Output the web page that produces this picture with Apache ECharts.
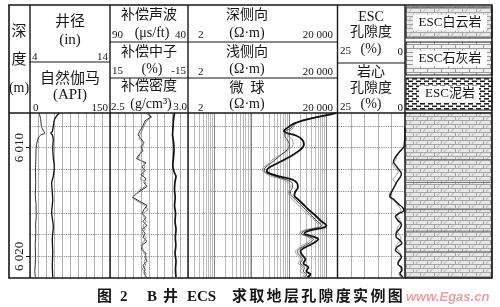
<!DOCTYPE html>
<html>
<head>
<meta charset="utf-8">
<script src="https://cdn.jsdelivr.net/npm/echarts@6/dist/echarts.min.js"></script>
<style>
html,body{margin:0;padding:0;background:#fff}
#chart{width:500px;height:307px}
</style>
</head>
<body>
<div id="chart"></div>
<script>
// ---- depth window and reference lines ----
const depthTop = 6006.8;
const depthBottom = 6022;
const depthLabels = [6010, 6020];
const depthGrid = [6008, 6010, 6012, 6014, 6016, 6018, 6020];

// ---- track 1: gamma ray (API) and caliper (in) ----
const grDepth = [6006.8, 6007.43, 6008.07, 6008.44, 6008.67, 6008.81, 6009.08, 6009.72, 6010.18, 6011.1, 6012.02, 6013.21, 6014.31, 6015.23, 6016.33, 6017.06, 6017.8, 6018.9, 6019.82, 6020.73, 6021.38, 6021.93];
const grValue = [17.4, 20.1, 21.6, 25.3, 28.1, 20.6, 15.6, 12.2, 11.3, 10.9, 10.3, 10.7, 9.9, 11.3, 11.6, 10.5, 10.9, 9.8, 10.3, 9.9, 9.0, 10.3];

const calDepth = [6006.8, 6007.06, 6007.43, 6008.04, 6008.5, 6008.65, 6008.81, 6009.27, 6010.03, 6010.95, 6011.71, 6012.63, 6013.21, 6014.77, 6015.96, 6017.25, 6018.44, 6019.63, 6020.92, 6021.93];
const calValue = [7.66, 7.34, 7.04, 6.91, 6.79, 6.59, 6.79, 6.91, 6.84, 6.91, 7.04, 6.91, 6.71, 6.84, 6.71, 6.91, 6.79, 6.84, 6.79, 6.85];

// ---- track 2: sonic (us/ft), neutron (%), density (g/cm3) ----
const sonicDepth = [6006.79, 6007.43, 6008.17, 6008.81, 6009.45, 6010.18, 6010.92, 6011.56, 6012.2, 6012.66, 6013.12, 6013.85, 6014.59, 6015.32, 6016.06, 6016.79, 6017.52, 6018.26, 6018.99, 6019.72, 6020.46, 6021.19, 6021.93];
const sonicValue = [48.65, 49.3, 49.6, 49.9, 49.3, 48.97, 49.3, 49.75, 48.97, 47.7, 48.3, 48.65, 48.2, 48.6, 48.0, 48.3, 47.7, 48.1, 47.8, 48.3, 47.7, 48.0, 47.7];

const nuDenDepth = [6006.79, 6007.16, 6007.52, 6007.98, 6008.44, 6008.81, 6009.17, 6009.54, 6009.91, 6010.28, 6010.64, 6011.01, 6011.38, 6011.74, 6012.11, 6012.48, 6012.84, 6013.21, 6013.58, 6013.94, 6014.31, 6014.59, 6014.95, 6015.32, 6015.69, 6016.06, 6016.42, 6016.79, 6017.16, 6017.52, 6017.89, 6018.26, 6018.62, 6018.99, 6019.36, 6019.72, 6020.09, 6020.46, 6020.83, 6021.19, 6021.56, 6021.93];
const neutronValue = [1.15, -0.77, 1.54, 2.31, 3.46, 4.23, 3.08, 1.92, 3.08, 2.31, 3.85, 4.81, 1.15, 2.69, 1.54, 3.08, 1.15, 1.92, 0.77, 3.08, 5.38, 6.15, 3.46, 0.77, 1.92, 2.69, 1.15, 2.31, 0.77, 2.69, 1.54, 2.31, 0.77, 2.69, 2.88, 1.15, 1.54, 0.77, 2.31, 1.54, 1.92, 0.96];
const densityValue = [2.744, 2.769, 2.737, 2.718, 2.705, 2.692, 2.686, 2.712, 2.712, 2.699, 2.692, 2.679, 2.718, 2.724, 2.712, 2.718, 2.692, 2.731, 2.724, 2.686, 2.667, 2.641, 2.679, 2.724, 2.744, 2.712, 2.718, 2.731, 2.712, 2.724, 2.705, 2.731, 2.718, 2.699, 2.712, 2.718, 2.737, 2.718, 2.731, 2.705, 2.731, 2.724];

// ---- track 3: resistivity (ohm.m), log scale ----
const resDepth = [6006.79, 6006.97, 6007.16, 6007.43, 6007.8, 6008.17, 6008.44, 6008.62, 6008.9, 6009.27, 6009.72, 6010.18, 6010.64, 6011.1, 6011.47, 6011.83, 6012.11, 6012.39, 6012.66, 6012.94, 6013.3, 6013.67, 6014.04, 6014.4, 6014.77, 6015.23, 6015.69, 6016.24, 6016.79, 6017.16, 6017.34, 6017.61, 6017.89, 6018.17, 6018.44, 6018.72, 6018.99, 6019.27, 6019.54, 6019.91, 6020.28, 6020.64, 6021.01, 6021.38, 6021.65, 6021.93];
const deepRes = [18800, 11470, 6180, 2770, 1320, 909, 733, 855, 1590, 2300, 2520, 2030, 1320, 755, 461, 299, 256, 318, 590, 1240, 1690, 1740, 1490, 1400, 1795, 2450, 3330, 5130, 7440, 10130, 8950, 3770, 2600, 4270, 6180, 4830, 3540, 2450, 2030, 2300, 2770, 2450, 3330, 2940, 3770, 3130];
const shallowRes = [17500, 10780, 5800, 2600, 1400, 1160, 855, 780, 780, 909, 1030, 909, 627, 433, 318, 233, 219, 281, 461, 855, 1240, 1240, 1090, 1160, 1490, 2030, 2770, 4010, 5810, 7440, 6570, 2940, 2160, 3330, 4540, 3770, 2770, 2030, 1690, 1910, 2300, 2030, 2600, 2450, 2940, 2600];
const microRes = [15600, 10000, 6400, 2500, 1500, 1300, 1080, 1000, 967, 1240, 1300, 1000, 600, 360, 281, 206, 194, 248, 360, 710, 1030, 1090, 967, 1030, 1240, 1690, 2300, 3540, 5130, 6180, 5460, 2450, 1910, 2940, 3770, 3130, 2300, 1795, 1490, 1690, 2030, 1795, 2300, 2030, 2600, 2300];

// ---- track 4: porosity (%) ----
const escDepth = [6008.17, 6008.81, 6009.45, 6009.91, 6010.18, 6010.55, 6010.92, 6011.28, 6011.65, 6012.02, 6012.39, 6012.75, 6013.12, 6013.49, 6013.85, 6014.22, 6014.5, 6014.77, 6015.14, 6015.5, 6015.78, 6016.06, 6016.33, 6016.7, 6017.06, 6017.43, 6017.8, 6018.17, 6018.53, 6018.81, 6019.17, 6019.45, 6019.82, 6020.09, 6020.46, 6020.73, 6021.01, 6021.28, 6021.56, 6021.93];
const escPorosity = [0, 0, 0.19, 0.37, 1.31, 2.61, 3.73, 4.29, 3.36, 2.24, 1.31, 1.87, 2.98, 3.73, 4.48, 5.22, 5.6, 4.1, 2.61, 0.93, 0.37, 2.24, 3.54, 2.61, 1.31, 1.87, 3.17, 3.36, 1.87, 1.12, 2.98, 3.54, 1.87, 1.31, 2.24, 2.61, 1.31, 1.12, 1.87, 0.75];

const coreDepth = [6010.0, 6010.37, 6010.73, 6011.1, 6011.47, 6011.83, 6012.2, 6012.57, 6012.94, 6013.3, 6013.67, 6014.04, 6014.4, 6014.68, 6015.05, 6015.41, 6015.78, 6016.15, 6016.51, 6016.88, 6017.25, 6017.61, 6017.98, 6018.35, 6018.72, 6019.08, 6019.45, 6019.82, 6020.18, 6020.55, 6020.92, 6021.28, 6021.65, 6021.93];
const corePorosity = [0.75, 1.87, 2.98, 3.36, 4.66, 3.73, 2.61, 3.36, 4.48, 3.36, 4.1, 5.41, 5.78, 5.22, 3.36, 2.24, 1.49, 2.98, 2.24, 1.49, 2.61, 2.98, 2.24, 1.49, 2.24, 3.36, 2.61, 1.49, 1.87, 2.8, 1.87, 1.49, 2.24, 1.49];

// ---- track 5: lithology beds ----
const bedTop = [6006.8, 6011.1, 6013.2, 6015.7, 6017.7, 6019.6];
const bedBottom = [6011.1, 6013.2, 6015.7, 6017.7, 6019.6, 6022];
const bedRock = ['dolomite', 'dolomite', 'dolomite', 'dolomite', 'dolomite', 'dolomite'];

// ---- header scale labels ----
const grScale = ['0', '150'];
const calScale = ['4', '14'];
const sonicScale = ['90', '40'];
const neutronScale = ['15', '-15'];
const densityScale = ['2.5', '3.0'];
const resScale = ['2', '20 000'];
const porScale = ['25', '0'];

const SERIF = '"Liberation Serif","Noto Sans CJK SC",serif';
const INK = '#161616';

const zip = (vals, depths) => vals.map((v, i) => [v, depths[i]]);

// ---- fill patterns for lithology ----
function makeTile(w, h, draw) {
  const c = document.createElement('canvas');
  c.width = w; c.height = h;
  draw(c.getContext('2d'));
  return { image: c, repeat: 'repeat' };
}
const patterns = {
  dolomite: makeTile(14, 8, g => {
    g.fillStyle = '#e8e8e8'; g.fillRect(0, 0, 14, 8);
    g.strokeStyle = '#a4a4a4'; g.lineWidth = 1;
    g.beginPath();
    g.moveTo(0, 0.5); g.lineTo(14, 0.5);
    g.moveTo(0, 4.5); g.lineTo(14, 4.5);
    g.moveTo(0.5, 0); g.lineTo(0.5, 4.5);
    g.moveTo(7.5, 4.5); g.lineTo(7.5, 8);
    g.moveTo(3, 3.5); g.lineTo(5.5, 1.5);
    g.moveTo(10, 7.5); g.lineTo(12.5, 5.5);
    g.stroke();
  }),
  limestone: makeTile(14, 8, g => {
    g.fillStyle = '#f0f0f0'; g.fillRect(0, 0, 14, 8);
    g.strokeStyle = '#9a9a9a'; g.lineWidth = 1;
    g.beginPath();
    g.moveTo(0, 0.5); g.lineTo(14, 0.5);
    g.moveTo(0, 4.5); g.lineTo(14, 4.5);
    g.moveTo(0.5, 0); g.lineTo(0.5, 4.5);
    g.moveTo(7.5, 4.5); g.lineTo(7.5, 8);
    g.stroke();
  }),
  mudstone: makeTile(8, 5, g => {
    g.fillStyle = '#ffffff'; g.fillRect(0, 0, 8, 5);
    g.fillStyle = '#222';
    g.fillRect(0, 0.5, 5, 1.6);
    g.fillRect(4, 3, 4, 1.6);
    g.fillRect(0, 3, 1, 1.6);
  })
};

// ---- header / frame graphics ----
const G = [];
function hline(x1, x2, y, w) { G.push({ type: 'line', z: 100, shape: { x1, y1: y, x2, y2: y }, style: { stroke: INK, lineWidth: w || 1 } }); }
function vline(x, y1, y2, w) { G.push({ type: 'line', z: 100, shape: { x1: x, y1, x2: x, y2 }, style: { stroke: INK, lineWidth: w || 1 } }); }
function txt(s, x, y, size, align, extra) {
  G.push({ type: 'text', z: 101, x, y, style: Object.assign({ text: s, fontSize: size, fontFamily: SERIF, fill: INK, align: align || 'center', verticalAlign: 'middle' }, extra || {}) });
}

// frame
G.push({ type: 'rect', z: 100, shape: { x: 9, y: 5, width: 483, height: 273 }, style: { fill: 'none', stroke: INK, lineWidth: 1.6 } });
[30, 110, 188, 337.5, 405].forEach(x => vline(x, 5, 278, 1.4));
hline(9, 492, 113, 1.5);
hline(30, 110, 62, 1);
hline(110, 337.5, 42, 1);
hline(110, 337.5, 78, 1);
hline(337.5, 405, 63, 1);

// depth column header
txt('深', 19, 32, 15); txt('度', 19, 60, 15); txt('(m)', 19, 88, 14);

// track 1 header
txt('井径', 70, 22, 15); txt('(in)', 70, 40, 15);
txt(calScale[0], 32, 57, 11, 'left'); txt(calScale[1], 108, 57, 11, 'right');
txt('自然伽马', 70, 79, 15); txt('(API)', 70, 95, 15);
txt(grScale[0], 33, 108, 11, 'left'); txt(grScale[1], 108, 108, 11, 'right');

// track 2 header
txt('补偿声波', 149, 15, 14); txt('(μs/ft)', 152, 33, 14);
txt(sonicScale[0], 112, 35, 11, 'left'); txt(sonicScale[1], 186, 35, 11, 'right');
txt('补偿中子', 149, 52, 14); txt('(%)', 152, 69, 14);
txt(neutronScale[0], 112, 71, 11, 'left'); txt(neutronScale[1], 186, 71, 11, 'right');
txt('补偿密度', 149, 86, 14); txt('(g/cm³)', 151, 104, 14);
txt(densityScale[0], 111, 107, 11, 'left'); txt(densityScale[1], 187, 107, 11, 'right');

// track 3 header
[['深侧向', 15, 33, 35], ['浅侧向', 52, 69, 72], ['微  球', 88, 104, 108]].forEach(r => {
  txt(r[0], 247, r[1], 14); txt('(Ω·m)', 247, r[2], 14);
  txt(resScale[0], 198, r[3], 11, 'left'); txt(resScale[1], 333, r[3], 11, 'right');
});

// track 4 header
txt('ESC', 371, 17, 14); txt('孔隙度', 371, 32, 14); txt('(%)', 371, 49, 14);
txt(porScale[0], 340, 51, 11, 'left'); txt(porScale[1], 403, 52, 11, 'right');
txt('岩心', 371, 72, 14); txt('孔隙度', 371, 88, 14); txt('(%)', 371, 104, 14);
txt(porScale[0], 340, 107, 11, 'left'); txt(porScale[1], 403, 108, 11, 'right');

// lithology legend
[['ESC白云岩', 'dolomite', 7, 31, 413, 74], ['ESC石灰岩', 'limestone', 42, 33, 413, 74], ['ESC泥岩', 'mudstone', 78, 32, 419, 60]].forEach(b => {
  G.push({ type: 'rect', z: 99, shape: { x: 406, y: b[2], width: 86, height: b[3] }, style: { fill: patterns[b[1]], stroke: INK, lineWidth: 1 } });
  G.push({ type: 'rect', z: 100, shape: { x: b[4], y: b[2] + b[3] / 2 - 8, width: b[5], height: 16 }, style: { fill: '#fff' } });
  txt(b[0], 450, b[2] + b[3] / 2, 13);
});

// caption
const capChars = '求取地层孔隙度实例图'.split('');
const capParts = [['图', 97], ['2', 120], ['B', 147], ['井', 163], ['ECS', 187]];
capChars.forEach((c, i) => capParts.push([c, 232 + i * 17.3]));
capParts.forEach(p => txt(p[0], p[1], 297, 15, 'left', { fontWeight: 'bold' }));
txt('www.Egas.cn', 406, 297, 13, 'left', { fontStyle: 'italic', fontWeight: 'bold', fontFamily: '"Liberation Sans",sans-serif', fill: 'rgba(215,80,80,0.55)' });

// ---- grid lines ----
const hGrid = depthGrid.map(d => ({ yAxis: d }));
const logGrid = [];
[1, 10, 100, 1000, 10000].forEach(dec => {
  for (let m = 1; m <= 9; m++) {
    const v = dec * m;
    if (v > 2 && v < 20000) logGrid.push({ xAxis: v, lineStyle: { color: m === 1 ? '#666' : '#a8a8a8', width: 0.8, type: 'solid' } });
  }
});
function gridLines(extra) {
  return {
    silent: true, symbol: 'none', animation: false, z: 1,
    label: { show: false },
    lineStyle: { color: '#777', width: 0.9, type: 'dotted' },
    data: hGrid.concat(extra || [])
  };
}

const grids = [
  { left: 30, top: 113, width: 80, height: 165 },
  { left: 110, top: 113, width: 78, height: 165 },
  { left: 188, top: 113, width: 149.5, height: 165 },
  { left: 337.5, top: 113, width: 67.5, height: 165 },
  { left: 405, top: 113, width: 87, height: 165 }
];

const vSplit = { show: true, lineStyle: { color: '#9c9c9c', width: 0.8 } };
const hidden = { axisLine: { show: false }, axisTick: { show: false }, axisLabel: { show: false }, splitLine: { show: false } };

const xAxes = [
  Object.assign({ gridIndex: 0, type: 'value', min: 0, max: 150, interval: 15 }, hidden, { splitLine: vSplit }),
  Object.assign({ gridIndex: 0, type: 'value', min: 4, max: 14, show: false }, hidden),
  Object.assign({ gridIndex: 1, type: 'value', min: 40, max: 90, inverse: true, show: false }, hidden),
  Object.assign({ gridIndex: 1, type: 'value', min: -15, max: 15, interval: 3, inverse: true }, hidden, { splitLine: vSplit }),
  Object.assign({ gridIndex: 1, type: 'value', min: 2.5, max: 3.0, show: false }, hidden),
  Object.assign({ gridIndex: 2, type: 'log', logBase: 10, min: 2, max: 20000, show: false }, hidden),
  Object.assign({ gridIndex: 3, type: 'value', min: 0, max: 25, interval: 5, inverse: true }, hidden, { splitLine: vSplit }),
  Object.assign({ gridIndex: 4, type: 'value', min: 0, max: 1, show: false }, hidden)
];

const yAxes = grids.map((g, i) => {
  const base = { gridIndex: i, type: 'value', inverse: true, min: depthTop, max: depthBottom };
  if (i !== 0) return Object.assign(base, { show: false });
  return Object.assign(base, {
    position: 'left',
    axisLine: { show: false },
    splitLine: { show: false },
    axisTick: { show: true, customValues: depthLabels, length: 4, lineStyle: { color: INK, width: 1 } },
    axisLabel: {
      show: true, customValues: depthLabels, rotate: 90, margin: 4,
      fontSize: 13, fontFamily: SERIF, color: INK,
      formatter: v => { const s = String(Math.round(v)); return s.slice(0, 1) + ' ' + s.slice(1); }
    }
  });
});

function curve(name, xi, yi, data, color, width, extra) {
  return Object.assign({
    name, type: 'line', xAxisIndex: xi, yAxisIndex: yi, data,
    symbol: 'none', showSymbol: false, animation: false, z: 3, clip: true,
    lineStyle: { color, width }
  }, extra || {});
}

const series = [
  curve('自然伽马', 0, 0, zip(grValue, grDepth), '#2a2a2a', 1, { smooth: 0.2, markLine: gridLines() }),
  curve('井径', 1, 0, zip(calValue, calDepth), '#111', 1.3, { smooth: 0.2 }),
  curve('补偿声波', 2, 1, zip(sonicValue, sonicDepth), '#111', 1.7, { smooth: 0.3 }),
  curve('补偿中子', 3, 1, zip(neutronValue, nuDenDepth), '#333', 1, { markLine: gridLines() }),
  curve('补偿密度', 4, 1, zip(densityValue, nuDenDepth), '#8a8a8a', 1),
  curve('微球', 5, 2, zip(microRes, resDepth), '#9a9a9a', 1, { smooth: 0.35, markLine: gridLines(logGrid) }),
  curve('浅侧向', 5, 2, zip(shallowRes, resDepth), '#444', 1, { smooth: 0.35 }),
  curve('深侧向', 5, 2, zip(deepRes, resDepth), '#111', 1.8, { smooth: 0.35 }),
  curve('岩心孔隙度', 6, 3, zip(corePorosity, coreDepth), '#8a8a8a', 1, { smooth: 0.3, markLine: gridLines() }),
  curve('ESC孔隙度', 6, 3, zip(escPorosity, escDepth), '#111', 1.4, { smooth: 0.3 }),
  {
    name: '岩性', type: 'custom', xAxisIndex: 7, yAxisIndex: 4, z: 2, animation: false, silent: true,
    data: bedTop.map((t, i) => [t, bedBottom[i], i]),
    encode: { y: [0, 1] },
    renderItem: (params, api) => {
      const p1 = api.coord([0, api.value(0)]);
      const p2 = api.coord([1, api.value(1)]);
      return {
        type: 'rect',
        shape: { x: p1[0], y: p1[1], width: p2[0] - p1[0], height: p2[1] - p1[1] },
        style: { fill: patterns[bedRock[api.value(2)]], stroke: '#6a6a6a', lineWidth: 0.8 }
      };
    }
  }
];

const chart = echarts.init(document.getElementById('chart'), null, { renderer: 'canvas' });
chart.setOption({
  animation: false,
  backgroundColor: '#fff',
  grid: grids,
  xAxis: xAxes,
  yAxis: yAxes,
  series,
  graphic: G
});
</script>
</body>
</html>
